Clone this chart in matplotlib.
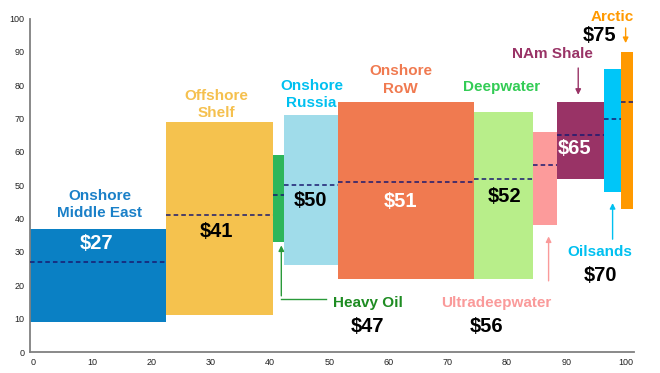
import matplotlib.pyplot as plt

plt.rcParams['font.family'] = ['Liberation Sans', 'DejaVu Sans']

# supply segments: cumulative capacity edges, cost range and median
names = ["Onshore\nMiddle East", "Offshore\nShelf", "Heavy Oil", "Onshore\nRussia",
         "Onshore\nRoW", "Deepwater", "Ultradeepwater", "NAm Shale", "Oilsands", "Arctic"]
edges = [-0.5, 22.4, 40.5, 42.3, 51.4, 74.4, 84.3, 88.4, 96.3, 99.3, 101.3]
low = [9, 11, 33, 26, 22, 22, 38, 52, 48, 43]
high = [37, 69, 59, 71, 75, 72, 66, 75, 85, 90]
median = [27, 41, 47, 50, 51, 52, 56, 65, 70, 75]
prices = ["$27", "$41", "$47", "$50", "$51", "$52", "$56", "$65", "$70", "$75"]

bar_colors = ["#0a80c4", "#f5c24e", "#2db65a", "#a0dcea", "#f07a50",
              "#b8ee8a", "#fc9b9b", "#993366", "#00c6f8", "#ff9900"]
label_colors = ["#1a80c8", "#f5c04e", "#1e8c22", "#00c0f0", "#f07a50",
                "#33cc55", "#fa9a9a", "#993366", "#00c0f0", "#ff9900"]

fig = plt.figure(figsize=(6.6, 3.73), dpi=100)
ax = fig.add_axes([0.0455, 0.0563, 0.915, 0.894])

for i in range(len(names)):
    x0, x1 = edges[i], edges[i + 1]
    ax.bar(x0, high[i] - low[i], width=x1 - x0, bottom=low[i], align='edge',
           color=bar_colors[i], edgecolor='none', zorder=2)
    ax.plot([x0, x1], [median[i], median[i]], color='#1a1a70', lw=1.1,
            ls=(0, (3, 2)), zorder=3)

# category labels (x, y in data units)
lab_pos = [(11.3, 44.3), (31, 74.2), (56.5, 14.7), (47, 77.3), (62, 81.6),
           (79, 79.5), (78.2, 14.7), (87.7, 89.5), (95.6, 30), (97.8, 100.5)]
price_pos = [(10.7, 32.5), (31, 36), (56.5, 7.5), (46.8, 45.5), (62, 45),
             (79.6, 46.5), (76.5, 7.5), (91.4, 61), (95.8, 23), (95.6, 95)]
price_colors = ['white', 'black', 'black', 'black', 'white',
                'black', 'black', 'white', 'black', 'black']

for i in range(len(names)):
    ax.text(*lab_pos[i], names[i], color=label_colors[i], fontsize=11,
            fontweight='bold', ha='center', va='center', linespacing=1.3, zorder=4)
    ax.text(*price_pos[i], prices[i], color=price_colors[i], fontsize=14.5,
            fontweight='bold', ha='center', va='center', zorder=4)

# pointer arrows
arw = dict(arrowstyle='-|>', lw=1, mutation_scale=8)
ax.plot([49.4, 41.9], [16, 16], color='#2a9a3a', lw=1, zorder=3)
ax.annotate('', xy=(41.9, 32.8), xytext=(41.9, 16),
            arrowprops=dict(arw, color='#2a9a3a'))
ax.annotate('', xy=(87, 35.5), xytext=(87, 20.5),
            arrowprops=dict(arw, color='#fa9a9a'))
ax.annotate('', xy=(97.8, 45.5), xytext=(97.8, 33),
            arrowprops=dict(arw, color='#00c0f0'))
ax.annotate('', xy=(92, 76.3), xytext=(92, 86),
            arrowprops=dict(arw, color='#993366'))
ax.annotate('', xy=(100, 91.8), xytext=(100, 98),
            arrowprops=dict(arw, color='#ff9900'))

ax.set_xlim(-0.5, 101.4)
ax.set_ylim(0, 100)
ax.set_xticks(range(0, 101, 10))
ax.set_yticks(range(0, 101, 10))
ax.tick_params(length=0, labelsize=6.5, labelcolor='#222222', pad=4)
for s in ['top', 'right']:
    ax.spines[s].set_visible(False)
for s in ['left', 'bottom']:
    ax.spines[s].set_color('#808080')
    ax.spines[s].set_linewidth(1.3)

fig.savefig("out.png", dpi=100)
